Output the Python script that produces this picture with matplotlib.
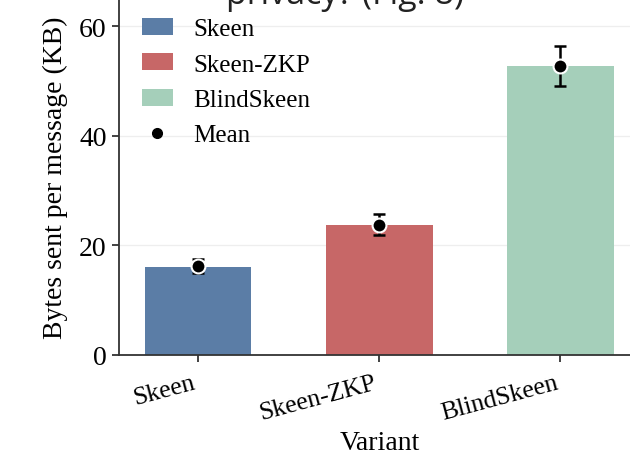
import matplotlib
matplotlib.use("Agg")
import matplotlib.pyplot as plt
from matplotlib.patches import Patch
from matplotlib.lines import Line2D
from matplotlib.transforms import ScaledTranslation
import numpy as np

# Data
variants = ["Skeen", "Skeen-ZKP", "BlindSkeen"]
bar_kb = [16.1, 23.7, 52.7]
mean_kb = [16.2, 23.8, 52.7]
err_low_kb = [14.9, 21.9, 49.2]
err_high_kb = [17.5, 25.8, 56.4]
yticks = [0, 20, 40, 60]
colors = ["#5B7DA6", "#C76767", "#A5CFBA"]

plt.rcParams["font.family"] = ["Liberation Serif", "DejaVu Serif"]

fig = plt.figure(figsize=(6.3, 4.6), dpi=100)
W, H = 630, 460
ax = fig.add_axes([119 / W, (H - 356) / H, (640 - 119) / W, 356 / H])

x = np.arange(len(variants))
ax.bar(x, bar_kb, width=0.59, color=colors, zorder=2)

mean_arr = np.array(mean_kb)
yerr = np.vstack([mean_arr - np.array(err_low_kb), np.array(err_high_kb) - mean_arr])
ax.errorbar(x, mean_arr, yerr=yerr, fmt="none", ecolor="black", elinewidth=1.8,
            capsize=4.5, capthick=1.8, zorder=3)
ax.plot(x, mean_arr, "o", color="black", markersize=10, markeredgecolor="white",
        markeredgewidth=1.5, zorder=4)

ax.set_xlim(-0.436, 2.44)
ax.set_ylim(0, 65)
ax.set_yticks(yticks)
ax.set_xticks(x)
ax.set_xticklabels(variants, rotation=15, ha="right", fontsize=18.5)
shift = ScaledTranslation(-2 / 100, 0, fig.dpi_scale_trans)
for lbl in ax.get_xticklabels():
    lbl.set_transform(lbl.get_transform() + shift)
ax.tick_params(axis="y", labelsize=20, length=5, width=1.3, color="#333333", pad=4)
ax.tick_params(axis="x", length=5, width=1.3, color="#333333", pad=7)
ax.yaxis.grid(True, color="#eeeeee", linewidth=0.9, zorder=0)
ax.set_axisbelow(True)

for side in ["top", "right"]:
    ax.spines[side].set_visible(False)
for side in ["left", "bottom"]:
    ax.spines[side].set_color("#333333")
    ax.spines[side].set_linewidth(1.3)

ax.set_ylabel("Bytes sent per message (KB)", fontsize=20, labelpad=8)
ax.set_xlabel("Variant", fontsize=20, labelpad=4)

handles = [Patch(facecolor=c, edgecolor="none") for c in colors]
handles.append(Line2D([], [], marker="o", linestyle="none", color="black",
                      markersize=7))
ax.legend(handles, variants + ["Mean"], loc="upper left", frameon=False,
          fontsize=18, handlelength=1.25, handleheight=0.68, handletextpad=0.8,
          labelspacing=0.52, bbox_to_anchor=(0.01, 0.996), borderaxespad=0.3)

fig.text(345 / W, 1 - 4 / H, "privacy? (Fig. 8)", family="Open Sans",
         fontsize=24.5, ha="center", va="baseline", color="#222222")

fig.savefig("out.png", dpi=100)
